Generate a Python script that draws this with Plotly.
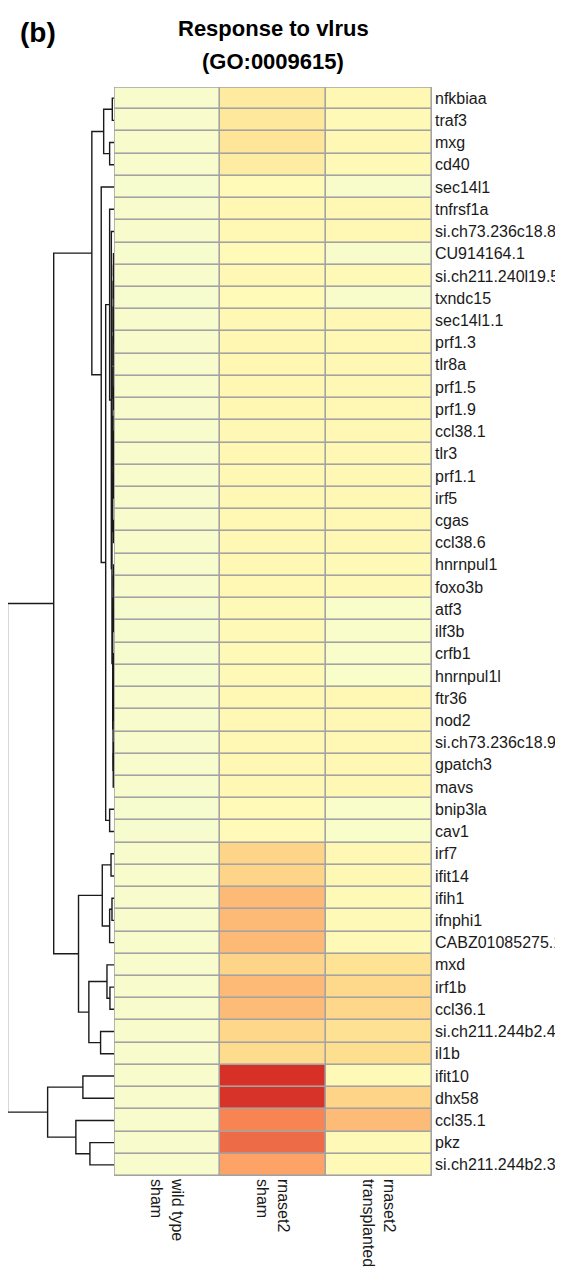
import plotly.graph_objects as go

# ---------------- data ----------------
genes = [
    "nfkbiaa", "traf3", "mxg", "cd40", "sec14l1", "tnfrsf1a", "si.ch73.236c18.8",
    "CU914164.1", "si.ch211.240l19.5", "txndc15", "sec14l1.1", "prf1.3", "tlr8a",
    "prf1.5", "prf1.9", "ccl38.1", "tlr3", "prf1.1", "irf5", "cgas", "ccl38.6",
    "hnrnpul1", "foxo3b", "atf3", "ilf3b", "crfb1", "hnrnpul1l", "ftr36", "nod2",
    "si.ch73.236c18.9", "gpatch3", "mavs", "bnip3la", "cav1", "irf7", "ifit14",
    "ifih1", "ifnphi1", "CABZ01085275.1", "mxd", "irf1b", "ccl36.1",
    "si.ch211.244b2.4", "il1b", "ifit10", "dhx58", "ccl35.1", "pkz", "si.ch211.244b2.3",
]

col_labels = ["wild type<br>sham", "rnaset2<br>sham", "rnaset2<br>transplanted"]

wild_type_sham = [
    -0.08, -0.08, -0.08, -0.08, -0.09, -0.08, -0.08, -0.09, -0.08, -0.09,
    -0.08, -0.08, -0.08, -0.08, -0.08, -0.08, -0.08, -0.08, -0.08, -0.08,
    -0.08, -0.08, -0.08, -0.09, -0.09, -0.09, -0.09, -0.08, -0.08, -0.08,
    -0.08, -0.08, -0.09, -0.09, -0.08, -0.08, -0.08, -0.08, -0.08, -0.08,
    -0.08, -0.08, -0.08, -0.08, -0.08, -0.08, -0.08, -0.08, -0.08,
]

rnaset2_sham = [
    0.22, 0.25, 0.28, 0.20, 0.05, 0.09, 0.08, 0.05, 0.07, 0.05,
    0.08, 0.09, 0.09, 0.09, 0.09, 0.08, 0.09, 0.08, 0.08, 0.08,
    0.08, 0.07, 0.07, 0.06, 0.06, 0.06, 0.06, 0.07, 0.08, 0.08,
    0.08, 0.07, 0.05, 0.05, 0.38, 0.38, 0.49, 0.49, 0.49, 0.38,
    0.49, 0.48, 0.37, 0.35, 1.00, 0.99, 0.70, 0.79, 0.58,
]

rnaset2_transplanted = [
    0.07, 0.06, 0.07, 0.06, -0.07, 0.07, 0.07, -0.07, 0.06, -0.07,
    0.07, 0.07, 0.07, 0.07, 0.07, 0.07, 0.07, 0.07, 0.07, 0.07,
    0.07, 0.06, 0.06, -0.06, -0.06, -0.06, -0.06, 0.07, 0.07, 0.07,
    0.07, 0.07, -0.06, -0.06, 0.07, 0.07, 0.06, 0.06, 0.06, 0.30,
    0.36, 0.37, 0.32, 0.34, 0.06, 0.38, 0.48, 0.06, 0.06,
]

# hclust-style merges: negative = leaf (row number, 1-based), positive = earlier merge
merge_pairs = [
    (-1, -2), (-3, -4), (1, 2),
    (-8, -9), (4, -10), (-11, -12), (5, 6), (7, -13), (-14, -15), (8, 9),
    (-16, -17), (-18, -19), (11, 12), (10, 13), (-20, -21), (14, 15),
    (-22, -23), (-24, -25), (17, 18), (-26, -27), (-28, -29), (20, 21),
    (-30, -31), (23, -32), (22, 24), (19, 25),
    (16, 26), (-7, 27), (-6, 28), (-33, -34), (29, 30), (-5, 31), (3, 32),
    (-35, -36), (-37, -38), (35, -39), (34, 36),
    (-41, -42), (-40, 38), (-43, -44), (39, 40), (37, 41), (33, 42),
    (-45, -46), (-48, -49), (-47, 45), (44, 46), (43, 47),
]
merge_heights = [
    0.16, 0.41, 0.97,
    0.05, 0.06, 0.03, 0.08, 0.09, 0.03, 0.10,
    0.04, 0.03, 0.06, 0.11, 0.05, 0.12,
    0.04, 0.03, 0.07, 0.04, 0.03, 0.06,
    0.04, 0.07, 0.09, 0.12,
    0.19, 0.25, 0.41, 0.41, 0.78, 1.20, 2.08,
    0.28, 0.19, 0.41, 1.10,
    0.38, 0.66, 1.26, 2.36, 3.33, 5.66,
    2.92, 2.26, 3.58, 6.23, 10.0,
]

# ---------------- geometry (pixels) ----------------
W, H = 563, 1267
hm_left, hm_right, hm_top, hm_bottom = 106, 424, 79, 1168
FONT = "Liberation Sans, Arial, Helvetica, sans-serif"


def fx(p):
    return p / W


def fy(p):
    return 1 - p / H


n_rows = len(genes)
z = [[a, b, c] for a, b, c in zip(wild_type_sham, rnaset2_sham, rnaset2_transplanted)]

colorscale = [
    [0.0, "#4575B4"], [1 / 6, "#91BFDB"], [2 / 6, "#E0F3F8"], [3 / 6, "#FFFFBF"],
    [4 / 6, "#FEE090"], [5 / 6, "#FC8D59"], [1.0, "#D73027"],
]

# ---------------- dendrogram segments ----------------
pos = {}
dx, dy = [], []
for i, ((a, b), h) in enumerate(zip(merge_pairs, merge_heights), start=1):
    def node(c):
        return (-c - 1, 0.0) if c < 0 else pos[c]
    ya, ha = node(a)
    yb, hb = node(b)
    dx += [ha, h, h, hb, None]
    dy += [ya, ya, yb, yb, None]
    pos[i] = ((ya + yb) / 2, h)

fig = go.Figure()
fig.add_trace(go.Heatmap(
    z=z, x=[0, 1, 2], y=list(range(n_rows)),
    colorscale=colorscale, zmin=-1, zmax=1, showscale=False,
    xgap=1.6, ygap=1.6, hoverinfo="skip", xaxis="x", yaxis="y",
))
fig.add_trace(go.Scatter(
    x=dx, y=dy, mode="lines", line=dict(color="#1a1a1a", width=1.4),
    hoverinfo="skip", showlegend=False, xaxis="x2", yaxis="y",
))

grid_col = "#A3A3A3"
fig.add_shape(type="rect", xref="x", yref="y", x0=-0.5, x1=2.5, y0=-0.5, y1=n_rows - 0.5,
              fillcolor=grid_col, line=dict(color=grid_col, width=0), layer="below")
fig.add_shape(type="rect", xref="x", yref="y", x0=-0.5, x1=2.5, y0=-0.5, y1=n_rows - 0.5,
              fillcolor="rgba(0,0,0,0)", line=dict(color=grid_col, width=1.6), layer="above")

fig.update_layout(
    width=W, height=H, autosize=False,
    margin=dict(l=0, r=0, t=0, b=0),
    paper_bgcolor="white", plot_bgcolor="white",
    showlegend=False,
    font=dict(family=FONT, size=16, color="#1a1a1a"),
    xaxis=dict(
        domain=[fx(hm_left), fx(hm_right)], range=[-0.5, 2.5], anchor="y",
        tickvals=[0, 1, 2], ticktext=col_labels, tickangle=90, ticks="", ticklen=0,
        showgrid=False, zeroline=False, showline=False, fixedrange=True,
        tickfont=dict(family=FONT, size=16, color="#1a1a1a"), ticklabelstandoff=2,
    ),
    xaxis2=dict(
        domain=[0, fx(hm_left)], range=[9.95, 0], anchor="y", visible=False,
        showgrid=False, zeroline=False, fixedrange=True,
    ),
    yaxis=dict(
        domain=[fy(hm_bottom), fy(hm_top)], range=[n_rows - 0.5, -0.5], anchor="x",
        side="right", tickvals=list(range(n_rows)), ticktext=genes, ticks="", ticklen=0,
        showgrid=False, zeroline=False, showline=False, fixedrange=True,
        tickfont=dict(family=FONT, size=16, color="#1a1a1a"), ticklabelstandoff=2,
    ),
    annotations=[
        dict(text="<b>(b)</b>", x=fx(30), y=fy(24), xref="paper", yref="paper",
             showarrow=False, xanchor="center", yanchor="middle",
             font=dict(family=FONT, size=28, color="black")),
        dict(text="<b>Response to vlrus</b>", x=fx(265), y=fy(20), xref="paper", yref="paper",
             showarrow=False, xanchor="center", yanchor="middle",
             font=dict(family=FONT, size=22, color="black")),
        dict(text="<b>(GO:0009615)</b>", x=fx(265), y=fy(53), xref="paper", yref="paper",
             showarrow=False, xanchor="center", yanchor="middle",
             font=dict(family=FONT, size=22, color="black")),
    ],
)

fig.write_html("out.html")
